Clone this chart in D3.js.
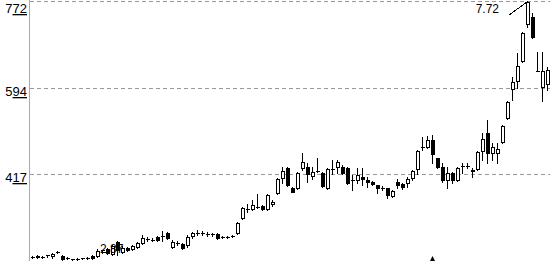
<!DOCTYPE html>
<html lang="en">
<head>
  <meta charset="UTF-8">
  <title>candles</title>
  <script src="https://d3js.org/d3.v7.min.js" charset="utf-8"></script>
  <style>
    html, body { margin: 0; padding: 0; background: #fff; }
    svg { display: block; }
  </style>
</head>
<body>
<script>
  // daily bars, oldest first
  var opens  = [2.47,2.49,2.47,2.51,2.49,2.57,2.49,2.45,2.43,2.43,2.45,2.45,2.49,2.49,2.61,2.63,2.53,2.77,2.57,2.65,
                2.63,2.67,2.75,2.84,2.82,2.88,2.90,2.96,2.67,2.75,2.73,2.71,2.90,2.96,2.96,2.94,2.94,2.94,2.88,2.88,
                2.90,2.96,3.27,3.45,3.45,3.49,3.51,3.45,3.55,3.78,4.09,4.29,3.88,3.88,4.29,4.31,4.13,4.23,4.19,3.88,
                4.27,4.31,4.31,4.29,4.05,4.05,4.11,4.05,4.01,3.94,3.88,3.88,3.72,4.01,3.96,3.99,4.09,4.27,4.72,4.72,
                4.87,4.50,4.31,4.05,4.19,4.05,4.33,4.33,4.25,4.27,4.64,5.01,4.60,4.60,4.83,5.32,5.91,6.08,6.49,7.25,
                7.39,6.28,5.96,6.02]
  var highs  = [2.49,2.51,2.49,2.51,2.55,2.59,2.51,2.47,2.43,2.45,2.45,2.47,2.51,2.63,2.61,2.65,2.71,2.80,2.69,2.67,
                2.71,2.77,2.92,2.88,2.86,2.90,3.00,2.98,2.82,2.80,2.75,2.92,2.98,3.02,3.00,2.98,2.96,2.96,2.90,2.90,
                2.92,3.19,3.49,3.55,3.64,3.76,3.53,3.76,3.64,4.09,4.31,4.31,3.90,4.21,4.60,4.40,4.31,4.50,4.21,4.29,
                4.46,4.46,4.35,4.31,4.15,4.29,4.29,4.11,4.03,3.94,3.92,3.88,3.84,4.07,3.99,4.11,4.25,4.66,4.93,4.95,
                4.97,4.50,4.40,4.31,4.21,4.31,4.40,4.40,4.29,4.64,5.01,5.28,4.81,4.81,5.18,5.67,6.16,6.65,7.08,7.72,
                7.47,6.67,6.67,6.37]
  var lows   = [2.45,2.45,2.45,2.47,2.45,2.55,2.41,2.43,2.38,2.41,2.43,2.43,2.43,2.47,2.55,2.53,2.51,2.51,2.55,2.59,
                2.61,2.65,2.73,2.80,2.80,2.80,2.80,2.84,2.65,2.71,2.63,2.67,2.86,2.92,2.92,2.90,2.90,2.84,2.86,2.86,
                2.88,2.94,3.25,3.39,3.43,3.47,3.43,3.43,3.51,3.76,3.99,3.92,3.80,3.86,4.25,4.01,4.07,4.21,3.90,3.86,
                4.17,4.19,4.17,3.96,3.84,3.99,3.94,3.90,3.94,3.78,3.84,3.68,3.70,3.88,3.86,3.90,4.05,4.17,4.66,4.70,
                4.40,4.29,4.01,3.88,3.99,4.03,4.19,4.29,4.11,4.25,4.46,4.40,4.46,4.40,4.81,5.30,5.69,5.93,6.47,7.19,
                6.96,6.28,5.67,5.89]
  var closes = [2.47,2.47,2.47,2.51,2.53,2.57,2.43,2.45,2.43,2.43,2.45,2.45,2.45,2.59,2.61,2.55,2.69,2.61,2.65,2.61,
                2.69,2.75,2.86,2.84,2.82,2.82,2.90,2.86,2.77,2.75,2.65,2.88,2.96,2.96,2.96,2.94,2.94,2.86,2.88,2.88,
                2.90,3.16,3.47,3.45,3.53,3.49,3.45,3.74,3.60,4.07,4.23,3.94,3.80,4.19,4.42,4.17,4.21,4.23,3.92,4.27,
                4.27,4.42,4.19,3.99,4.05,4.15,4.07,4.01,3.96,3.88,3.88,3.74,3.82,3.94,3.90,4.07,4.23,4.64,4.72,4.87,
                4.58,4.31,4.05,4.19,4.05,4.29,4.33,4.33,4.23,4.62,4.89,4.60,4.72,4.68,5.16,5.65,6.06,6.39,7.06,7.70,
                6.98,6.28,6.28,6.30]

  var gridPrices = [7.72, 5.94, 4.17]
  var gridLabels = [['7', '72'], ['5', '94'], ['4', '17']]
  var maxLabel = {index: 99, price: 7.72, text: '7.72'}
  var minLabel = {index: 13, price: 2.87, text: '2.87'}
  var markIndex = 80

  var W = 550, H = 261, axisX = 30
  var n = opens.length

  var x = d3.scaleLinear().domain([0, n - 1]).range([33, 548])
  var y = d3.scaleLinear().domain([4.17, 7.72]).range([174, 1])

  var svg = d3.select('body').append('svg').attr('width', W).attr('height', H)
  svg.append('rect').attr('width', W).attr('height', H).attr('fill', '#fff')

  // grid + axis
  svg.selectAll('.grid').data(gridPrices).enter().append('line')
    .attr('x1', axisX).attr('x2', W)
    .attr('y1', function(d) { return Math.round(y(d)) + 0.5 })
    .attr('y2', function(d) { return Math.round(y(d)) + 0.5 })
    .attr('stroke', '#999').attr('stroke-dasharray', '4,3')

  svg.append('line')
    .attr('x1', axisX - 0.5).attr('x2', axisX - 0.5).attr('y1', 0).attr('y2', H)
    .attr('stroke', '#aaa')

  var labels = svg.selectAll('.lbl').data(gridPrices).enter().append('text')
    .attr('x', 27)
    .attr('y', function(d, i) { return i === 0 ? Math.round(y(d)) + 12 : Math.round(y(d)) + 8 })
    .attr('text-anchor', 'end')
    .attr('font-family', 'Liberation Sans, Arial, sans-serif')
    .attr('font-size', 13)
    .attr('fill', '#000')
  labels.append('tspan').text(function(d, i) { return gridLabels[i][0] })
  labels.append('tspan').attr('text-decoration', 'underline').text(function(d, i) { return gridLabels[i][1] })

  // candles
  var bars = d3.range(n).map(function(i) {
    return {i: i, o: opens[i], h: highs[i], l: lows[i], c: closes[i]}
  })
  var g = svg.append('g').attr('shape-rendering', 'crispEdges')

  g.selectAll('.wick').data(bars).enter().append('line')
    .attr('x1', function(d) { return x(d.i) - 0.5 })
    .attr('x2', function(d) { return x(d.i) - 0.5 })
    .attr('y1', function(d) { return Math.round(y(d.h)) })
    .attr('y2', function(d) { return Math.round(y(d.l)) + 1 })
    .attr('stroke', '#000')

  g.selectAll('.body').data(bars.filter(function(d) { return d.o !== d.c })).enter().append('rect')
    .attr('x', function(d) { return x(d.i) - 1.5 })
    .attr('y', function(d) { return Math.round(y(Math.max(d.o, d.c))) + 0.5 })
    .attr('width', 3)
    .attr('height', function(d) { return Math.max(1, Math.round(y(Math.min(d.o, d.c))) - Math.round(y(Math.max(d.o, d.c)))) })
    .attr('fill', function(d) { return d.c > d.o ? '#fff' : '#000' })
    .attr('stroke', '#000')

  g.selectAll('.doji').data(bars.filter(function(d) { return d.o === d.c })).enter().append('line')
    .attr('x1', function(d) { return x(d.i) - 2 })
    .attr('x2', function(d) { return x(d.i) + 2 })
    .attr('y1', function(d) { return Math.round(y(d.o)) + 0.5 })
    .attr('y2', function(d) { return Math.round(y(d.o)) + 0.5 })
    .attr('stroke', '#000')

  // max / min notes
  var mx = x(maxLabel.index), my = Math.round(y(maxLabel.price))
  svg.append('line')
    .attr('x1', mx - 1).attr('y1', my + 1).attr('x2', mx - 19).attr('y2', my + 14)
    .attr('stroke', '#000').attr('shape-rendering', 'crispEdges')
  svg.append('text')
    .attr('x', mx - 29).attr('y', my + 12)
    .attr('text-anchor', 'end')
    .attr('font-family', 'Liberation Sans, Arial, sans-serif').attr('font-size', 12)
    .text(maxLabel.text)

  svg.append('text')
    .attr('x', x(minLabel.index) + 2).attr('y', Math.round(y(minLabel.price)) + 16)
    .attr('font-family', 'Liberation Sans, Arial, sans-serif').attr('font-size', 12)
    .text(minLabel.text)

  // marker under a bar
  var tx = x(markIndex)
  svg.append('path')
    .attr('d', d3.line()([[tx - 3, H], [tx + 2, H], [tx - 0.5, H - 5]]) + 'Z')
    .attr('fill', '#000')
</script>
</body>
</html>
